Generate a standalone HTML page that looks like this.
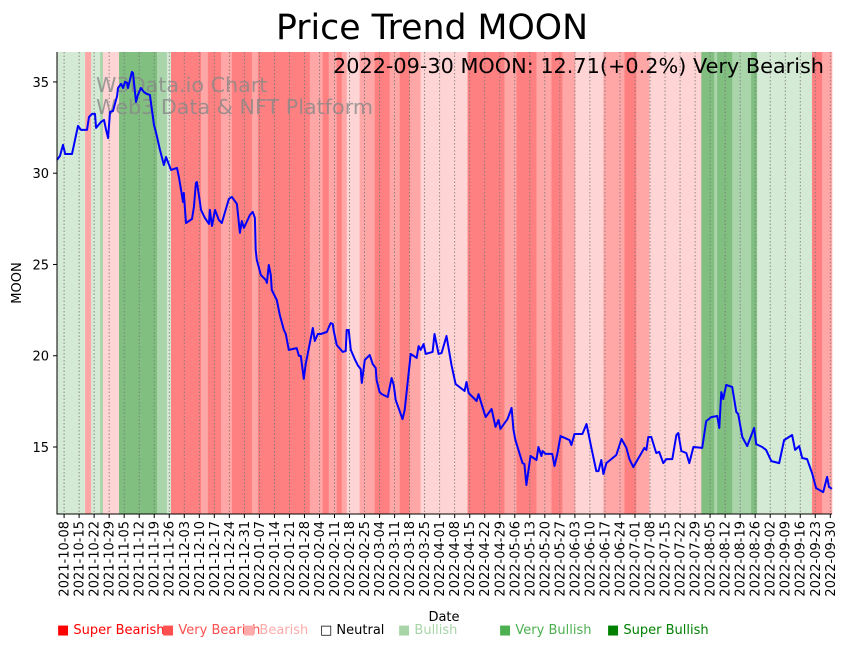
<!DOCTYPE html>
<html><head><meta charset="utf-8"><style>
body{margin:0;background:#fff;}
svg{display:block;font-family:"DejaVu Sans","Liberation Sans",sans-serif;}
</style></head><body>
<svg id="chart" width="848" height="646" xmlns="http://www.w3.org/2000/svg">
<text x="432" y="39" font-size="34.7" text-anchor="middle">Price Trend MOON</text>
<g id="bands"></g>
<g id="grid"></g>
<text x="96" y="92" font-size="20.7" fill="#888" fill-opacity="0.8">W3Data.io Chart</text>
<text x="96" y="114" font-size="20.7" fill="#888" fill-opacity="0.8">Web3 Data &amp; NFT Platform</text>
<path id="line" fill="none" stroke="#0000ff" stroke-width="2" stroke-linejoin="round"/>
<text x="824" y="73" font-size="20.8" text-anchor="end">2022-09-30 MOON: 12.71(+0.2%) Very Bearish</text>
<g id="axes"></g>
<text transform="translate(21,283) rotate(-90)" font-size="13" text-anchor="middle">MOON</text>
<text x="444" y="621" font-size="13" text-anchor="middle">Date</text>
<g font-size="13">
<text x="57" y="634" fill="#ff0000">■ Super Bearish</text>
<text x="162" y="634" fill="#ff5050">■ Very Bearish</text>
<text x="243" y="634" fill="#ffaaaa">■ Bearish</text>
<text x="320" y="634" fill="#000">□ Neutral</text>
<text x="398" y="634" fill="#a8d5a8">■ Bullish</text>
<text x="499" y="634" fill="#4caf50">■ Very Bullish</text>
<text x="607" y="634" fill="#008000">■ Super Bullish</text>
</g>
</svg>
<script>
// days are offsets from 2021-10-08
const priceDays = [-3.3,-1.9,-0.5,0.5,3.7,6.5,7.9,10.7,11.6,13.0,14.4,14.9,17.2,18.6,19.5,20.5,21.4,22.8,24.7,25.1,26.5,27.5,28.4,29.3,29.8,31.6,32.1,33.5,34.4,35.8,37.2,38.6,40.0,41.9,42.8,44.7,46.5,47.5,49.8,52.6,53.5,54.9,55.4,55.8,56.8,59.6,60.5,61.4,61.9,63.3,63.8,65.6,67.5,67.9,68.9,70.3,72.1,73.5,75.4,76.8,78.2,80.5,81.9,82.8,83.8,86.6,87.9,88.9,89.3,89.8,91.7,94.0,94.5,95.4,96.3,96.8,99.1,100.5,102.4,103.3,104.7,108.4,109.4,110.3,111.7,112.6,113.5,115.9,116.8,118.2,119.6,122.4,124.2,125.2,125.6,127.0,129.8,131.2,131.7,132.6,133.6,135.4,136.8,138.2,138.7,140.1,142.4,143.8,145.2,145.6,147.0,148.0,150.8,152.6,153.6,154.5,157.7,158.7,161.5,164.3,165.2,166.1,167.5,168.5,171.7,172.6,174.5,175.9,178.2,180.5,182.4,186.6,187.5,188.5,192.2,193.1,196.4,199.2,201.0,202.4,203.3,206.6,208.5,209.4,210.3,213.6,214.5,215.4,217.3,220.1,221.0,222.4,222.9,224.3,227.5,228.5,229.9,231.3,235.5,236.4,237.8,241.5,243.4,245.7,248.0,249.0,250.3,251.3,252.7,257.3,259.7,262.0,263.4,265.2,270.4,271.3,272.2,273.6,275.9,277.3,279.2,280.6,283.4,285.3,286.2,287.6,289.9,291.3,293.2,297.3,299.2,301.5,304.3,305.3,306.2,307.1,308.5,311.3,313.2,314.1,316.0,318.3,321.5,322.5,325.3,327.1,329.5,333.2,335.5,339.2,340.6,342.5,343.9,346.2,348.5,350.4,353.7,355.5,356.4,357.8];
const priceValues = [30.73,30.95,31.55,31.05,31.05,32.59,32.37,32.37,33.08,33.25,33.25,32.48,32.81,32.92,32.42,31.93,33.36,33.41,34.23,34.67,34.89,34.67,35.0,34.95,34.67,35.55,35.49,33.90,34.29,34.67,34.45,34.34,34.29,32.64,32.26,31.27,30.45,30.89,30.18,30.29,29.79,28.81,28.42,28.92,27.27,27.49,28.15,29.47,29.52,28.42,27.99,27.55,27.22,27.99,27.11,27.99,27.44,27.27,28.04,28.59,28.70,28.32,26.73,27.38,27.00,27.71,27.88,27.55,25.79,25.25,24.42,24.15,23.99,24.97,24.42,23.60,23.05,22.23,21.41,21.19,20.32,20.42,19.99,19.99,18.73,19.55,20.10,21.52,20.81,21.19,21.19,21.30,21.79,21.74,21.41,20.59,20.21,20.26,21.41,21.41,20.32,19.82,19.49,19.27,18.51,19.77,20.04,19.55,19.33,18.67,18.01,17.90,17.74,18.78,18.40,17.58,16.53,17.03,20.10,19.88,20.53,20.32,20.64,20.10,20.21,21.19,20.10,20.15,21.08,19.49,18.45,18.07,18.56,17.96,17.52,17.90,16.64,17.08,16.10,16.48,15.99,16.53,17.14,15.93,15.38,14.12,14.07,12.92,14.51,14.29,15.00,14.51,14.78,14.62,14.62,13.96,14.67,15.60,15.38,15.11,15.71,15.71,16.26,14.95,13.68,13.68,14.29,13.52,14.12,14.56,15.44,14.95,14.34,13.90,14.95,14.84,15.55,15.55,14.67,14.73,14.12,14.34,14.34,15.66,15.77,14.78,14.67,14.12,15.00,14.95,16.42,16.64,16.70,16.04,18.01,17.63,18.40,18.29,16.92,16.81,15.55,15.05,16.04,15.16,15.00,14.84,14.23,14.12,15.38,15.66,14.84,15.05,14.40,14.34,13.58,12.75,12.53,13.36,12.81,12.71];
const bandStarts = [-3.3,9.8,12.6,16.8,18.1,25.6,43.3,47.9,49.8,63.8,67.0,73.1,78.2,87.5,90.3,114.5,120.5,123.3,127.0,129.4,131.7,137.7,144.7,151.7,156.4,161.0,166.1,188.0,205.2,210.8,220.1,227.1,232.2,238.2,251.3,261.1,266.6,272.7,296.9,302.9,304.3,311.3,320.1,322.9,348.5,353.2];
const bandLevels = [1,-2,1,2,-1,3,2,1,-3,-2,-3,-2,-3,-2,-3,-2,-3,-2,-3,-2,-1,-2,-3,-2,-3,-2,-1,-3,-2,-3,-2,-3,-2,-1,-2,-3,-2,-1,3,2,3,2,3,1,-3,-2];
const yTicks = [15,20,25,30,35];
const tickDays = []; for(let d=0; d<=357; d+=7) tickDays.push(d);

const X0=57,X1=832,Y0=52,Y1=514,DMIN=-3.3,DMAX=357.8,VMIN=11.33,VMAX=36.64;
const xs=d=>X0+(d-DMIN)/(DMAX-DMIN)*(X1-X0);
const ys=v=>Y1-(v-VMIN)/(VMAX-VMIN)*(Y1-Y0);
const NS='http://www.w3.org/2000/svg';
const colors={'-3':'#ff8080','-2':'#ffa6a6','-1':'#ffd4d4','1':'#d4ead4','2':'#aad4aa','3':'#80bf80'};
const bands=document.getElementById('bands');
bandStarts.forEach((s,i)=>{
  const e=i+1<bandStarts.length?bandStarts[i+1]:DMAX;
  const r=document.createElementNS(NS,'rect');
  
  
  r.setAttribute('x',xs(s));r.setAttribute('y',Y0);
  r.setAttribute('width',xs(e)-xs(s)+0.3);r.setAttribute('height',Y1-Y0);
  r.setAttribute('fill',colors[bandLevels[i]]);
  bands.appendChild(r);
});
const grid=document.getElementById('grid'),axes=document.getElementById('axes');
const base=new Date(Date.UTC(2021,9,8));
tickDays.forEach(d=>{
  const x=xs(d);
  const l=document.createElementNS(NS,'line');
  
  
  l.setAttribute('x1',x);l.setAttribute('x2',x);l.setAttribute('y1',Y0);l.setAttribute('y2',Y1);
  l.setAttribute('stroke','#777');l.setAttribute('stroke-width','0.8');l.setAttribute('stroke-dasharray','1.5,2');
  grid.appendChild(l);
  const t=document.createElementNS(NS,'line');
  
  
  t.setAttribute('x1',x);t.setAttribute('x2',x);t.setAttribute('y1',Y1);t.setAttribute('y2',Y1+4);t.setAttribute('stroke','#000');
  axes.appendChild(t);
  const dt=new Date(base.getTime()+d*86400000);
  const lbl=dt.toISOString().slice(0,10);
  const tx=document.createElementNS(NS,'text');
  
  
  tx.setAttribute('font-size','13');tx.setAttribute('text-anchor','end');
  tx.setAttribute('transform','translate('+(x+4.5)+','+(Y1+7)+') rotate(-90)');
  tx.textContent=lbl;axes.appendChild(tx);
});
yTicks.forEach(v=>{
  const y=ys(v);
  const t=document.createElementNS(NS,'line');
  
  
  t.setAttribute('x1',X0-4);t.setAttribute('x2',X0);t.setAttribute('y1',y);t.setAttribute('y2',y);t.setAttribute('stroke','#000');
  axes.appendChild(t);
  const tx=document.createElementNS(NS,'text');
  
  
  tx.setAttribute('x',X0-8);tx.setAttribute('y',y+5);tx.setAttribute('font-size','13');tx.setAttribute('text-anchor','end');
  tx.textContent=v;axes.appendChild(tx);
});
const sp=document.createElementNS(NS,'path');


sp.setAttribute('d','M'+X0+','+Y0+'V'+Y1+'H'+X1);sp.setAttribute('stroke','#000');sp.setAttribute('fill','none');
axes.appendChild(sp);
document.getElementById('line').setAttribute('d',priceDays.map((d,i)=>(i?'L':'M')+xs(d).toFixed(1)+','+ys(priceValues[i]).toFixed(1)).join(''));
</script>
</body></html>
